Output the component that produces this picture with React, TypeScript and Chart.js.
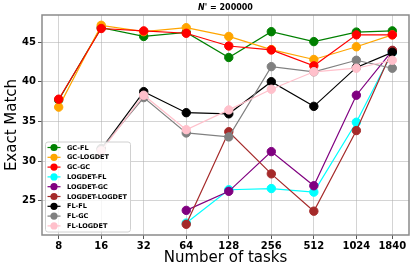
import { useEffect, useRef } from 'react';
import { Chart, registerables } from 'chart.js';
Chart.register(...registerables);

const tasks = [8, 16, 32, 64, 128, 256, 512, 1024, 1840];
const seriesNames = ['GC-FL', 'GC-LOGDET', 'GC-GC', 'LOGDET-FL', 'LOGDET-GC', 'LOGDET-LOGDET', 'FL-FL', 'FL-GC', 'FL-LOGDET'];
const seriesColors = ['#008000', '#FFA500', '#FF0000', '#00FFFF', '#800080', '#A52A2A', '#000000', '#808080', '#FFC0CB'];
const gcFl = [37.7, 46.8, 45.7, 46.2, 43.05, 46.3, 45.05, 46.25, 46.4];
const gcLogdet = [36.8, 47.1, 46.3, 46.8, 45.7, 44.05, 42.8, 44.4, 45.9];
const gcGc = [37.8, 46.7, 46.4, 46.1, 44.5, 44.0, 42.0, 45.9, 45.9];
const logdetFl = [null, null, null, 22.2, 26.4, 26.55, 26.1, 34.9, 43.7];
const logdetGc = [null, null, null, 23.8, 26.2, 31.2, 26.9, 38.3, 43.9];
const logdetLogdet = [null, null, null, 22.05, 33.7, 28.4, 23.7, 33.85, 43.95];
const flFl = [null, 31.5, 38.75, 36.1, 35.96, 40.0, 36.9, 41.8, 43.7];
const flGc = [null, 31.6, 38.0, 33.55, 33.05, 41.9, 41.25, 42.7, 41.7];
const flLogdet = [null, 31.3, 38.3, 33.96, 36.45, 39.05, 41.25, 41.7, 42.7];
const seriesValues = [gcFl, gcLogdet, gcGc, logdetFl, logdetGc, logdetLogdet, flFl, flGc, flLogdet];
const yTicks = [25, 30, 35, 40, 45];
const titleMain = "N'";
const titleRest = ' = 200000';

const FONT = "'DejaVu Sans', sans-serif";

export default function App() {
  const ref = useRef<HTMLCanvasElement>(null);
  useEffect(() => {
    document.body.style.margin = '0';
    const canvas = ref.current!;
    const lx = tasks.map((t) => Math.log2(t));
    const span = lx[lx.length - 1] - lx[0];
    const xmin = lx[0] - span * 0.05;
    const xmax = lx[lx.length - 1] + span * 0.05;

    const datasets = seriesNames.map((name, i) => ({
      label: name,
      data: tasks.map((t, j) => ({ x: Math.log2(t), y: seriesValues[i][j] })),
      borderColor: seriesColors[i],
      backgroundColor: seriesColors[i],
      pointBackgroundColor: seriesColors[i],
      pointBorderColor: seriesColors[i],
      pointRadius: 4.2,
      pointBorderWidth: 1,
      borderWidth: 1.2,
      spanGaps: false,
      order: seriesNames.length - i,
      clip: false as any,
    }));

    const framePlugin = {
      id: 'frame',
      afterDatasetsDraw(chart: any) {
        const { ctx, chartArea: a } = chart;
        ctx.save();
        ctx.strokeStyle = '#8a8a8a';
        ctx.lineWidth = 1.5;
        ctx.strokeRect(a.left, a.top, a.right - a.left, a.bottom - a.top);
        // title
        ctx.fillStyle = '#000';
        ctx.textBaseline = 'middle';
        const f1 = `italic bold 8px ${FONT}`;
        const f2 = `bold 8px ${FONT}`;
        ctx.font = f1;
        const w1 = ctx.measureText(titleMain).width;
        ctx.font = f2;
        const w2 = ctx.measureText(titleRest).width;
        const cx = (a.left + a.right) / 2;
        const sx = cx - (w1 + w2) / 2;
        ctx.font = f1;
        ctx.textAlign = 'left';
        ctx.fillText(titleMain, sx, 7.5);
        ctx.font = f2;
        ctx.fillText(titleRest, sx + w1, 7.5);
        ctx.restore();
      },
      afterDraw(chart: any) {
        const { ctx, chartArea: a } = chart;
        const bx = a.left + 3.5;
        const by = 142;
        const bw = 85;
        const bh = 90;
        ctx.save();
        ctx.beginPath();
        (ctx as any).roundRect(bx, by, bw, bh, 2.5);
        ctx.fillStyle = 'rgba(255,255,255,0.8)';
        ctx.fill();
        ctx.strokeStyle = '#d0d0d0';
        ctx.lineWidth = 1;
        ctx.stroke();
        ctx.font = `bold 6.5px ${FONT}`;
        ctx.textBaseline = 'middle';
        ctx.textAlign = 'left';
        seriesNames.forEach((name, i) => {
          const y = 147.5 + i * 9.8;
          ctx.strokeStyle = seriesColors[i];
          ctx.lineWidth = 1.2;
          ctx.beginPath();
          ctx.moveTo(bx + 2, y);
          ctx.lineTo(bx + 15, y);
          ctx.stroke();
          ctx.fillStyle = seriesColors[i];
          ctx.beginPath();
          ctx.arc(bx + 8.5, y, 3.6, 0, Math.PI * 2);
          ctx.fill();
          ctx.fillStyle = '#000';
          ctx.fillText(name, bx + 21.5, y + 0.5);
        });
        ctx.restore();
      },
    };

    const chart = new Chart(canvas, {
      type: 'line',
      data: { datasets: datasets as any },
      options: {
        animation: false,
        responsive: false,
        layout: { padding: { top: 15, right: 7, left: 0, bottom: 0 } },
        plugins: { legend: { display: false }, tooltip: { enabled: false }, title: { display: false } },
        scales: {
          x: {
            type: 'linear',
            min: xmin,
            max: xmax,
            afterBuildTicks: (s: any) => {
              s.ticks = lx.map((v) => ({ value: v }));
            },
            afterFit: (s: any) => {
              s.height = 38;
            },
            ticks: {
              callback: (_v: any, i: number) => String(tasks[i]),
              font: { family: FONT, size: 10, weight: 'bold' },
              color: '#000',
              padding: 1,
              maxRotation: 0,
              autoSkip: false,
            },
            grid: { color: 'rgba(176,176,176,0.55)', lineWidth: 1, tickLength: 4, tickColor: '#555' },
            border: { display: false },
            title: {
              display: true,
              text: 'Number of tasks',
              font: { family: FONT, size: 15 },
              color: '#000',
              padding: { top: 0, bottom: 6 },
            },
          },
          y: {
            type: 'linear',
            min: 20.7,
            max: 48.4,
            afterBuildTicks: (s: any) => {
              s.ticks = yTicks.map((v) => ({ value: v }));
            },
            afterFit: (s: any) => {
              s.width = 42;
            },
            ticks: {
              font: { family: FONT, size: 10, weight: 'bold' },
              color: '#000',
              padding: 2,
            },
            grid: { color: 'rgba(176,176,176,0.55)', lineWidth: 1, tickLength: 4, tickColor: '#555' },
            border: { display: false },
            title: {
              display: true,
              text: 'Exact Match',
              font: { family: FONT, size: 15 },
              color: '#000',
              padding: { top: 3, bottom: 0 },
            },
          },
        },
      },
      plugins: [framePlugin],
    });
    return () => chart.destroy();
  }, []);
  return <canvas ref={ref} width={416} height={273} style={{ display: 'block' }} />;
}
